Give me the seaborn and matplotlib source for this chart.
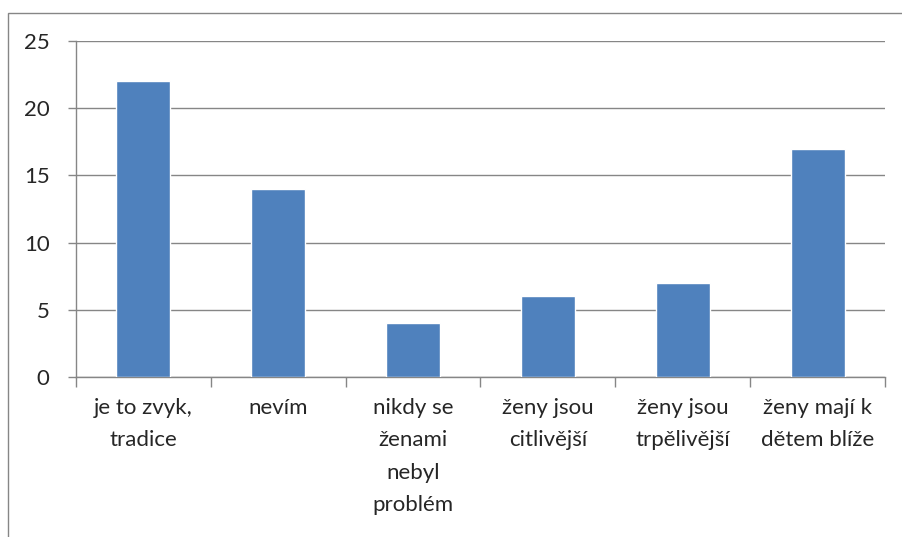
import matplotlib
matplotlib.use("Agg")
import matplotlib.pyplot as plt
import seaborn as sns
import pandas as pd
from matplotlib.patches import Rectangle

# Data
categories = ["je to zvyk,\ntradice", "nevím", "nikdy se\nženami\nnebyl\nproblém",
              "ženy jsou\ncitlivější", "ženy jsou\ntrpělivější", "ženy mají k\ndětem blíže"]
values = [22, 14, 4, 6, 7, 17]
yticks = [0, 5, 10, 15, 20, 25]

df = pd.DataFrame({"category": categories, "value": values})

sns.set_style("white")
plt.rcParams['font.family'] = ['Lato', 'DejaVu Sans']

fig = plt.figure(figsize=(9.03, 5.37), dpi=100)
ax = fig.add_axes([76 / 903, 1 - 377 / 537, (885 - 76) / 903, (377 - 41) / 537])

sns.barplot(data=df, x="category", y="value", color="#4F81BD", saturation=1,
            width=0.4, ax=ax, zorder=3)

grid_c = "#868686"
ax.set_ylim(0, 25)
ax.set_xlim(-0.5, len(categories) - 0.5)
ax.set_yticks(yticks)
ax.grid(axis="y", color=grid_c, linewidth=1, zorder=0)
ax.set_axisbelow(True)
ax.set_xlabel("")
ax.set_ylabel("")

for s in ["top", "right"]:
    ax.spines[s].set_visible(False)
for s in ["left", "bottom"]:
    ax.spines[s].set_color(grid_c)
    ax.spines[s].set_linewidth(1)

# tick marks between categories
ax.set_xticks([i - 0.5 for i in range(len(categories) + 1)], minor=True)
ax.tick_params(axis="x", which="major", length=0, pad=15, labelsize=16)
ax.tick_params(axis="x", which="minor", length=7, color=grid_c, width=1,
               direction="out", bottom=True)
ax.tick_params(axis="y", length=6, color=grid_c, width=1, pad=13, labelsize=16, left=True)
for lab in ax.get_xticklabels():
    lab.set_linespacing(1.78)
    lab.set_verticalalignment("top")

# outer chart border
fig.patches.append(Rectangle((8 / 903, -0.1), 1.2, 1 - 13 / 537 + 0.1,
                             transform=fig.transFigure, fill=False,
                             edgecolor=grid_c, linewidth=1))

fig.savefig("out.png", dpi=100)
